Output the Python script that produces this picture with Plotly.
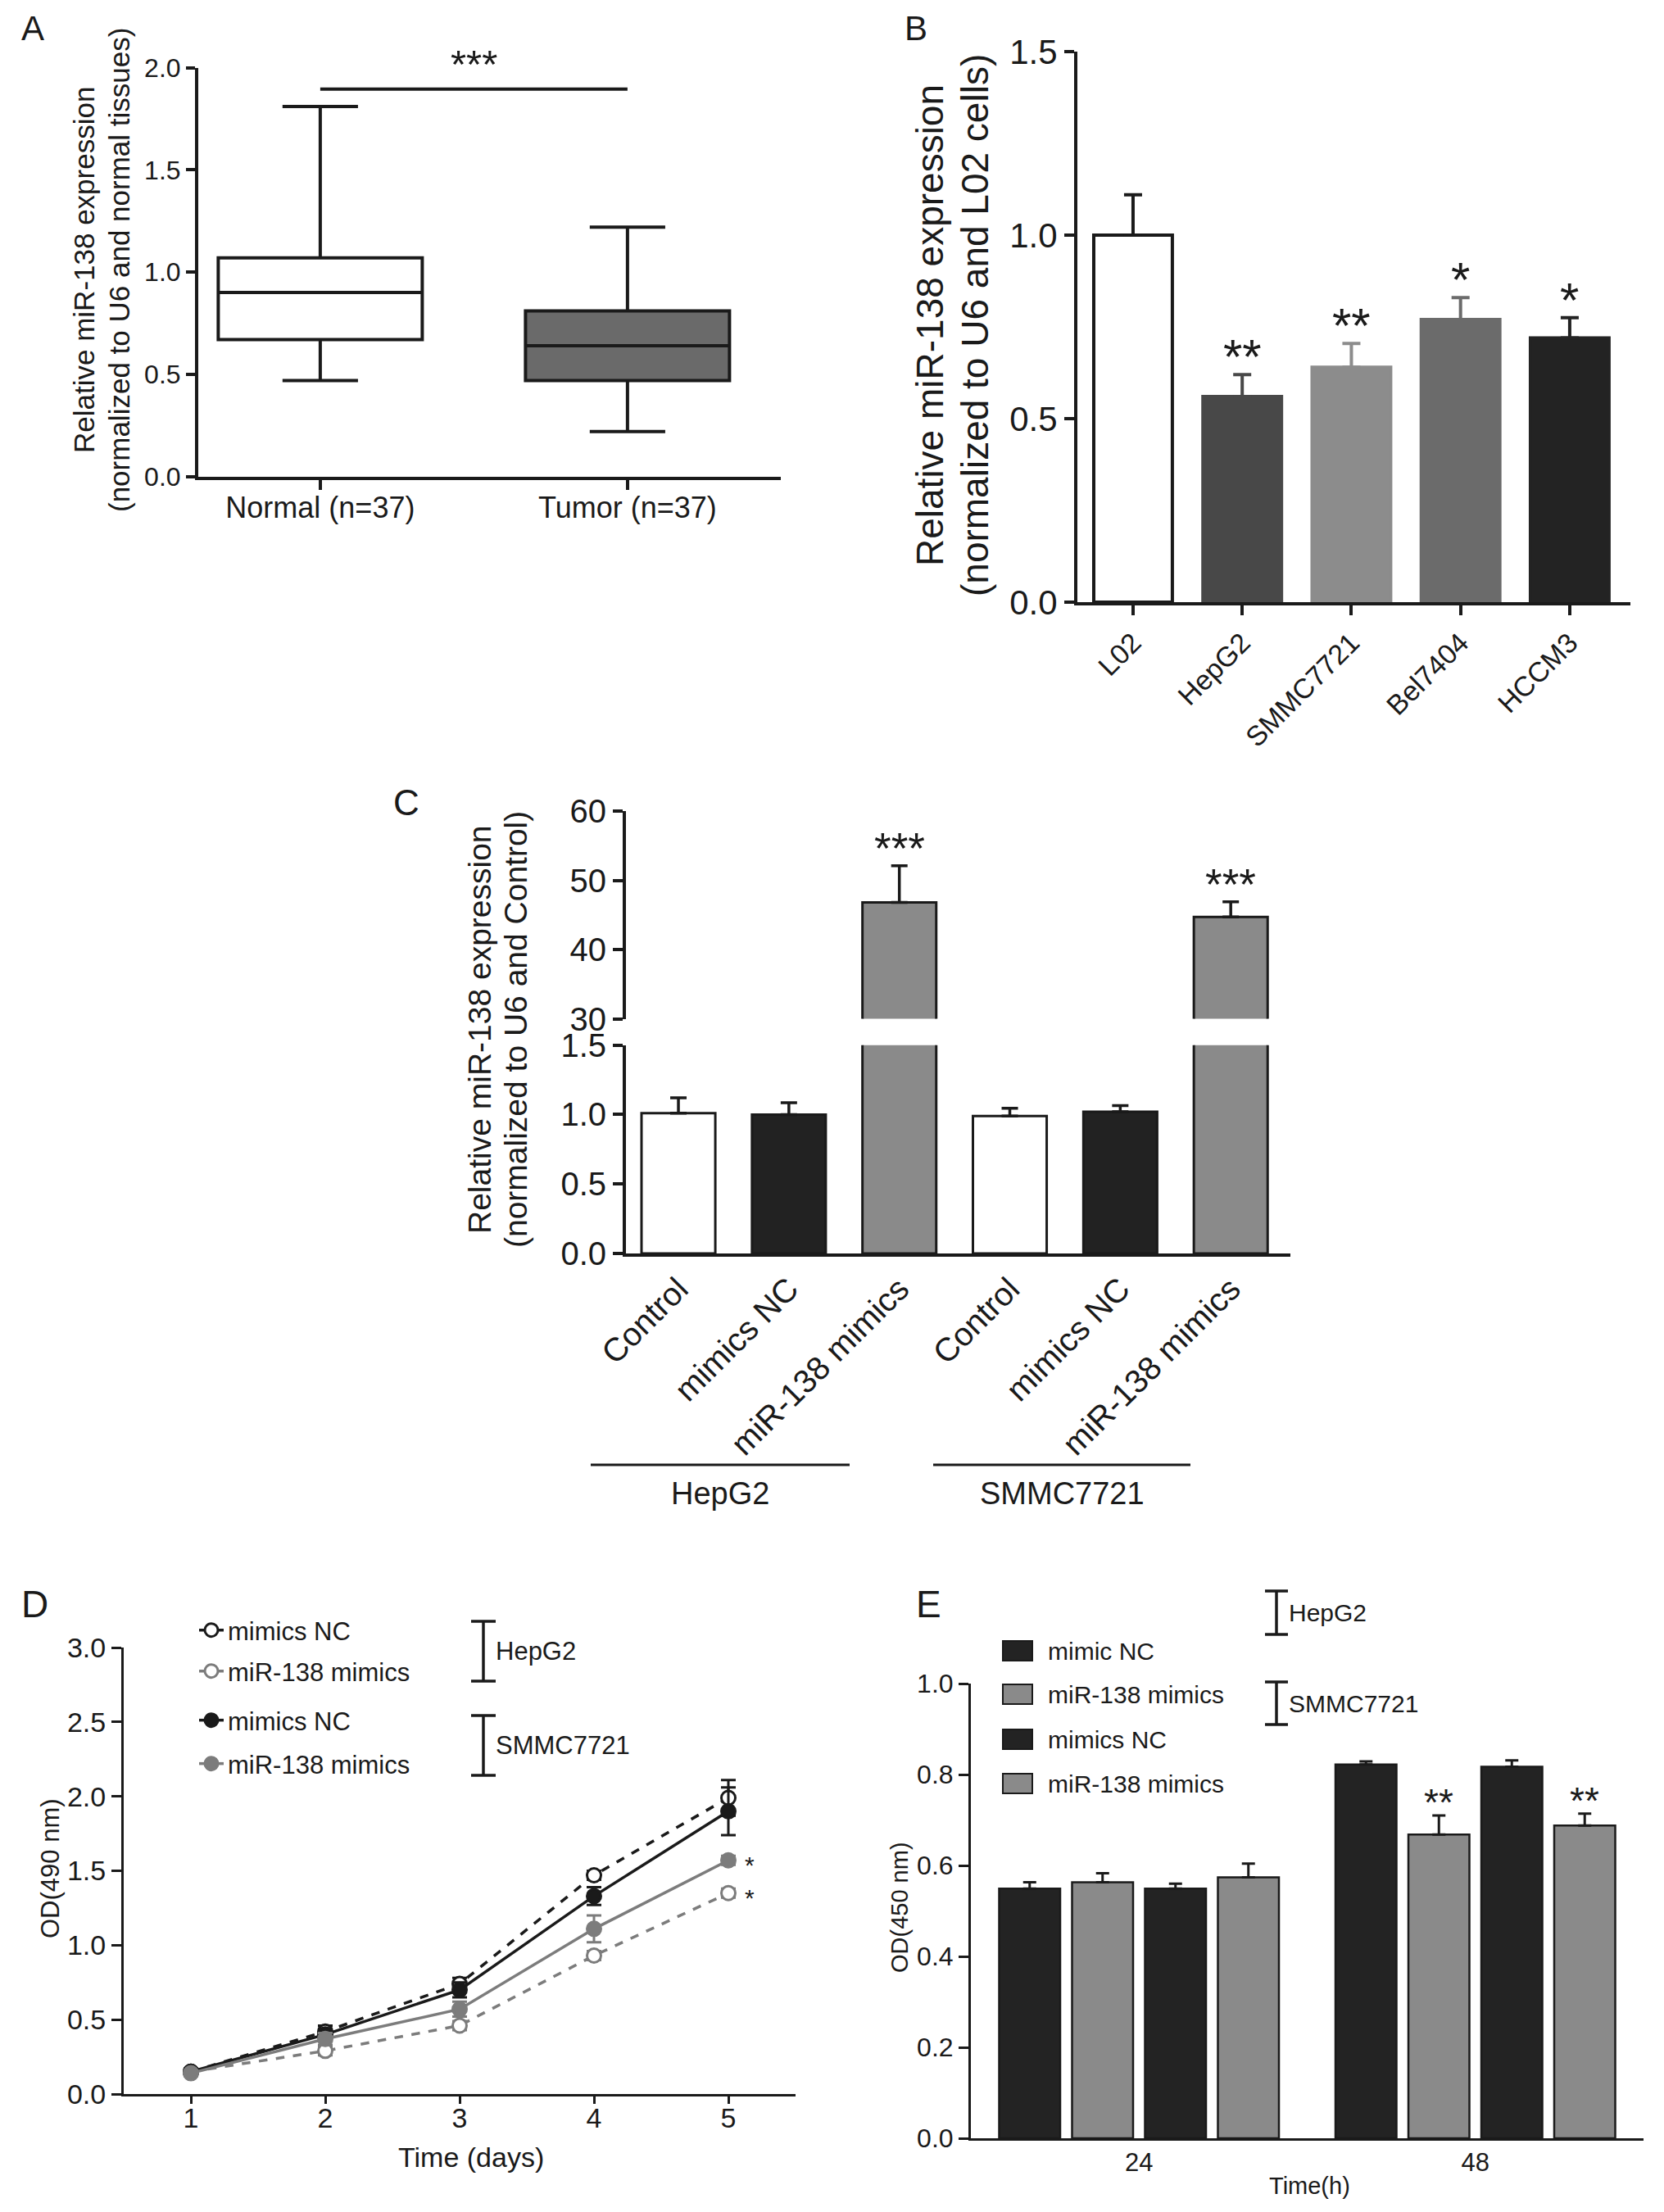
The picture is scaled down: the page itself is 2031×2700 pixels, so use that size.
import plotly.graph_objects as go

W, H = 2031, 2700
FONT = 'Liberation Sans, Arial, sans-serif'
INK = '#1a1a1a'
GRAY = '#7c7c7c'

# ---------------- data ----------------
# A: box summaries
a_groups = ['Normal (n=37)', 'Tumor (n=37)']
a_lower = [0.47, 0.22]
a_q1 = [0.67, 0.47]
a_median = [0.90, 0.64]
a_q3 = [1.07, 0.81]
a_upper = [1.81, 1.22]

# B: cell lines
b_cells = ['L02', 'HepG2', 'SMMC7721', 'Bel7404', 'HCCM3']
b_mean = [1.00, 0.56, 0.64, 0.77, 0.72]
b_sem = [0.11, 0.06, 0.065, 0.06, 0.055]
b_stars = ['', '**', '**', '*', '*']

# C: transfection efficiency (broken axis)
c_labels = ['Control', 'mimics NC', 'miR-138 mimics', 'Control', 'mimics NC', 'miR-138 mimics']
c_mean = [1.01, 1.00, 46.8, 0.99, 1.02, 44.7]
c_sem = [0.11, 0.085, 5.3, 0.055, 0.045, 2.2]
c_stars = ['', '', '***', '', '', '***']
c_cells = ['HepG2', 'SMMC7721']

# D: MTT growth curves
d_days = [1, 2, 3, 4, 5]
d_hep_nc = [0.15, 0.42, 0.74, 1.47, 1.99]
d_hep_nc_err = [0.02, 0.04, 0.04, 0.03, 0.12]
d_hep_mir = [0.15, 0.29, 0.46, 0.93, 1.35]
d_hep_mir_err = [0.02, 0.03, 0.03, 0.03, 0.03]
d_smmc_nc = [0.15, 0.40, 0.70, 1.33, 1.90]
d_smmc_nc_err = [0.02, 0.04, 0.05, 0.06, 0.16]
d_smmc_mir = [0.14, 0.37, 0.57, 1.11, 1.57]
d_smmc_mir_err = [0.02, 0.04, 0.05, 0.09, 0.03]
d_names = ['mimics NC', 'miR-138 mimics', 'mimics NC', 'miR-138 mimics']
d_stars = ['', '*', '', '*']

# E: CCK-8 at 24 / 48 h
e_times = ['24', '48']
e_names = ['mimic NC', 'miR-138 mimics', 'mimics NC', 'miR-138 mimics']
e_mean = [[0.549, 0.822], [0.563, 0.668], [0.549, 0.817], [0.574, 0.688]]
e_sem = [[0.014, 0.007], [0.020, 0.042], [0.011, 0.014], [0.030, 0.026]]
e_stars = [['', ''], ['', '**'], ['', ''], ['', '**']]


def xp(px):
    return px / W


def yp(py):
    return 1 - py / H


fig = go.Figure()

# ---------------- A ----------------
a_fill = ['white', '#6a6a6a']
for i in range(2):
    fig.add_trace(go.Box(
        x=[a_groups[i]], q1=[a_q1[i]], median=[a_median[i]], q3=[a_q3[i]],
        lowerfence=[a_lower[i]], upperfence=[a_upper[i]],
        fillcolor=a_fill[i], line=dict(color=INK, width=4),
        width=0.664, whiskerwidth=0.37, boxpoints=False,
        showlegend=False, xaxis='x', yaxis='y'))

# ---------------- B ----------------
b_fill = ['white', '#484848', '#8c8c8c', '#6b6b6b', '#232323']
b_edge = [INK, '#484848', '#8c8c8c', '#6b6b6b', '#232323']
for i in range(5):
    fig.add_trace(go.Bar(
        x=[b_cells[i]], y=[b_mean[i]], width=0.72,
        marker=dict(color=b_fill[i], line=dict(color=b_edge[i], width=4)),
        error_y=dict(type='data', array=[b_sem[i]], arrayminus=[0], symmetric=False,
                     color=b_edge[i], thickness=4, width=11),
        showlegend=False, xaxis='x2', yaxis='y2'))

# ---------------- C ----------------
c_fill = ['white', '#222222', '#8a8a8a'] * 2
c_x = list(range(len(c_labels)))
for xa, ya in [('x3', 'y3'), ('x4', 'y4')]:
    fig.add_trace(go.Bar(
        x=c_x, y=c_mean, width=0.668,
        marker=dict(color=c_fill, line=dict(color=INK, width=3)),
        error_y=dict(type='data', array=c_sem, arrayminus=[0] * 6, symmetric=False,
                     color=INK, thickness=3.5, width=10),
        showlegend=False, xaxis=xa, yaxis=ya))

# ---------------- D ----------------
d_vals = [d_hep_nc, d_hep_mir, d_smmc_nc, d_smmc_mir]
d_errs = [d_hep_nc_err, d_hep_mir_err, d_smmc_nc_err, d_smmc_mir_err]
d_color = [INK, GRAY, INK, GRAY]
d_dash = ['dash', 'dash', 'solid', 'solid']
d_open = [True, True, False, False]
d_legend = ['legend', 'legend2', 'legend3', 'legend4']
for i in range(4):
    fig.add_trace(go.Scatter(
        x=d_days, y=d_vals[i], name=d_names[i], mode='lines+markers',
        line=dict(color=d_color[i], width=3.5, dash=d_dash[i]),
        marker=dict(size=17, symbol='circle',
                    color='white' if d_open[i] else d_color[i],
                    line=dict(color=d_color[i], width=3)),
        error_y=dict(type='data', array=d_errs[i], color=d_color[i], thickness=3, width=9),
        legend=d_legend[i], xaxis='x5', yaxis='y5'))

# ---------------- E ----------------
e_fill = ['#232323', '#8a8a8a', '#232323', '#8a8a8a']
slot, barw = 0.2168, 0.1815
for i in range(4):
    centre = (i - 1.5) * slot
    fig.add_trace(go.Bar(
        x=e_times, y=e_mean[i], width=barw, offset=centre - barw / 2,
        marker=dict(color=e_fill[i], line=dict(color=INK, width=2.5)),
        error_y=dict(type='data', array=e_sem[i], arrayminus=[0, 0], symmetric=False,
                     color=INK, thickness=3, width=8),
        showlegend=False, xaxis='x6', yaxis='y6'))

# ---------------- axes ----------------
def ax(domain, anchor, size, lw=4, **kw):
    d = dict(domain=domain, anchor=anchor, showline=True, linecolor=INK, linewidth=lw,
             ticks='outside', ticklen=12, tickwidth=lw, tickcolor=INK,
             showgrid=False, zeroline=False, automargin=False,
             tickfont=dict(family=FONT, size=size, color=INK))
    d.update(kw)
    return d


layout = dict(
    width=W, height=H, margin=dict(l=0, r=0, t=0, b=0, autoexpand=False),
    paper_bgcolor='white', plot_bgcolor='white', barmode='overlay',
    font=dict(family=FONT, color=INK),
    xaxis=ax([xp(242), xp(953)], 'y', 36, range=[-0.397, 1.499], ticklabelstandoff=-9),
    yaxis=ax([yp(581.7), yp(82.6)], 'x', 32, range=[0, 2], dtick=0.5, tickformat='.1f',
             ticklen=11),
    xaxis2=ax([xp(1315), xp(1990)], 'y2', 34, range=[-0.51, 4.556], tickangle=-45),
    yaxis2=ax([yp(735), yp(63)], 'x2', 42, range=[0, 1.5], dtick=0.5, tickformat='.1f'),
    xaxis3=ax([xp(764), xp(1575)], 'y3', 40, range=[-0.475, 5.54], ticks='',
              tickvals=c_x, ticktext=c_labels, tickangle=-45),
    yaxis3=ax([yp(1530), yp(1275.7)], 'x3', 40, range=[0, 1.5], dtick=0.5, tickformat='.1f'),
    xaxis4=dict(domain=[xp(764), xp(1575)], anchor='y4', matches='x3', visible=False),
    yaxis4=ax([yp(1243.6), yp(990)], 'x4', 40, range=[30, 60], dtick=10),
    xaxis5=ax([xp(151), xp(971)], 'y5', 34, lw=3, range=[0.5, 5.5], tickvals=d_days,
              ticklen=9, ticklabelstandoff=-12),
    yaxis5=ax([yp(2556), yp(2011)], 'x5', 34, lw=3, range=[0, 3], dtick=0.5, tickformat='.1f'),
    xaxis6=ax([xp(1185), xp(2006)], 'y6', 31, lw=3, type='category', range=[-0.5, 1.5], ticks=''),
    yaxis6=ax([yp(2610), yp(2055)], 'x6', 32, lw=3, range=[0, 1], dtick=0.2, tickformat='.1f'),
)

# D legends, one per row so the row spacing follows the picture
d_rows = [1990, 2040, 2100, 2153]
for i, key in enumerate(d_legend):
    layout[key] = dict(x=xp(238), y=yp(d_rows[i]), xanchor='left', yanchor='middle',
                       bgcolor='rgba(0,0,0,0)', font=dict(family=FONT, size=31, color=INK))
fig.update_layout(**layout)

# ---------------- annotations ----------------
ann = []
shapes = []


def text(x, y, s, size, **kw):
    d = dict(x=xp(x), y=yp(y), xref='paper', yref='paper', text=s, showarrow=False,
             xanchor='center', yanchor='middle',
             font=dict(family=FONT, size=size, color=INK))
    d.update(kw)
    ann.append(d)


# panel letters
for s, x, y, size in [('A', 40, 34, 42), ('B', 1118, 34, 42), ('C', 496, 979, 44),
                      ('D', 42, 1958, 46), ('E', 1133, 1958, 46)]:
    text(x, y, s, size)

# y titles
text(102, 330, 'Relative miR-138 expression', 35, textangle=-90)
text(145, 330, '(normalized to U6 and normal tissues)', 35, textangle=-90)
text(1135, 397, 'Relative miR-138 expression', 46, textangle=-90)
text(1190, 397, '(normalized to U6 and L02 cells)', 46, textangle=-90)
text(586, 1257, 'Relative miR-138 expression', 39, textangle=-90)
text(630, 1257, '(normalized to U6 and Control)', 39, textangle=-90)
text(61, 2281, 'OD(490 nm)', 31, textangle=-90)
text(1098, 2328, 'OD(450 nm)', 29, textangle=-90)
# x titles
text(575, 2633, 'Time (days)', 34)
text(1598, 2668, 'Time(h)', 29)

# A significance bar
shapes.append(dict(type='line', xref='x', yref='y', x0=0, x1=1, y0=1.895, y1=1.895,
                   line=dict(color=INK, width=4)))
ann.append(dict(x=0.5, y=1.895, xref='x', yref='y', text='***', showarrow=False,
                yanchor='bottom', yshift=2, font=dict(family=FONT, size=49, color=INK)))

# B stars
for i in range(5):
    if b_stars[i]:
        ann.append(dict(x=b_cells[i], y=b_mean[i] + b_sem[i], xref='x2', yref='y2',
                        text=b_stars[i], showarrow=False, yanchor='bottom', yshift=-14,
                        font=dict(family=FONT, size=60, color=INK)))

# C stars
for i in range(6):
    if c_stars[i]:
        ann.append(dict(x=c_x[i], y=c_mean[i] + c_sem[i], xref='x4', yref='y4',
                        text=c_stars[i], showarrow=False, yanchor='bottom', yshift=-10,
                        font=dict(family=FONT, size=53, color=INK)))

# C cell-line groups
for k, (x0, x1) in enumerate([(721, 1037), (1139, 1453)]):
    shapes.append(dict(type='line', xref='paper', yref='paper', x0=xp(x0), x1=xp(x1),
                       y0=yp(1788), y1=yp(1788), line=dict(color=INK, width=3)))
    text((x0 + x1) / 2, 1823, c_cells[k], 38)

# D stars
for i in range(4):
    if d_stars[i]:
        ann.append(dict(x=d_days[-1], y=d_vals[i][-1], xref='x5', yref='y5',
                        text=d_stars[i], showarrow=False, xanchor='left', xshift=18,
                        yshift=-6, font=dict(family=FONT, size=30, color=INK)))

# D brackets
for (y0, y1, label) in [(1979, 2052, 'HepG2'), (2094, 2167, 'SMMC7721')]:
    shapes.append(dict(type='line', xref='paper', yref='paper', x0=xp(590), x1=xp(590),
                       y0=yp(y0), y1=yp(y1), line=dict(color=INK, width=3.5)))
    for yy in (y0, y1):
        shapes.append(dict(type='line', xref='paper', yref='paper', x0=xp(575), x1=xp(605),
                           y0=yp(yy), y1=yp(yy), line=dict(color=INK, width=3.5)))
    text(603, (y0 + y1) / 2, label, 31, xanchor='left')

# E stars
for i in range(4):
    for j in range(2):
        if e_stars[i][j]:
            ann.append(dict(x=j + (i - 1.5) * slot, y=e_mean[i][j] + e_sem[i][j],
                            xref='x6', yref='y6', text=e_stars[i][j], showarrow=False,
                            yanchor='bottom', yshift=-12,
                            font=dict(family=FONT, size=46, color=INK)))

# E legend (drawn by hand: large swatches)
e_rows = [2015, 2068, 2123, 2177]
for i in range(4):
    shapes.append(dict(type='rect', xref='paper', yref='paper',
                       x0=xp(1224), x1=xp(1260), y0=yp(e_rows[i] - 12), y1=yp(e_rows[i] + 12),
                       fillcolor=e_fill[i], line=dict(color=INK, width=2)))
    text(1277, e_rows[i], e_names[i], 30, xanchor='left')

# E brackets
for (y0, y1, label) in [(1942, 1995, 'HepG2'), (2053, 2105, 'SMMC7721')]:
    shapes.append(dict(type='line', xref='paper', yref='paper', x0=xp(1558), x1=xp(1558),
                       y0=yp(y0), y1=yp(y1), line=dict(color=INK, width=3.5)))
    for yy in (y0, y1):
        shapes.append(dict(type='line', xref='paper', yref='paper', x0=xp(1544), x1=xp(1572),
                           y0=yp(yy), y1=yp(yy), line=dict(color=INK, width=3.5)))
    text(1571, (y0 + y1) / 2, label, 30, xanchor='left')

fig.update_layout(annotations=ann, shapes=shapes)

# the page's default 8px body margin would offset the whole figure
fig.write_html("out.html", config={'displayModeBar': False},
               post_script="document.body.style.margin='0';")
